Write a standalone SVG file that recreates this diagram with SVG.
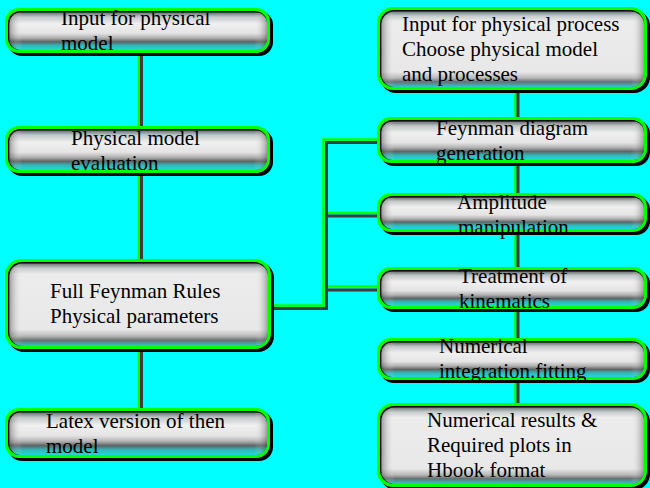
<svg xmlns="http://www.w3.org/2000/svg" width="650" height="488" viewBox="0 0 650 488">
<defs>
<linearGradient id="gs" x1="0" y1="0" x2="0" y2="1">
<stop offset="0" stop-color="#6a7070"/>
<stop offset="0.12" stop-color="#c4c8c8"/>
<stop offset="0.3" stop-color="#f0f0f0"/>
<stop offset="0.55" stop-color="#e4e4e4"/>
<stop offset="0.68" stop-color="#b0b0b0"/>
<stop offset="0.78" stop-color="#5e6464"/>
<stop offset="0.88" stop-color="#30b8b8"/>
<stop offset="1" stop-color="#20d8d8"/>
</linearGradient>
<linearGradient id="gt" x1="0" y1="0" x2="0" y2="1">
<stop offset="0" stop-color="#707878"/>
<stop offset="0.06" stop-color="#c8cccc"/>
<stop offset="0.13" stop-color="#ececec"/>
<stop offset="0.8" stop-color="#e8e8e8"/>
<stop offset="0.88" stop-color="#b8b8b8"/>
<stop offset="0.93" stop-color="#687070"/>
<stop offset="1" stop-color="#30c8c8"/>
</linearGradient>
<linearGradient id="gh" x1="0" y1="0" x2="1" y2="0">
<stop offset="0" stop-color="#404040" stop-opacity="0.45"/>
<stop offset="0.05" stop-color="#ffffff" stop-opacity="0"/>
<stop offset="0.95" stop-color="#ffffff" stop-opacity="0"/>
<stop offset="1" stop-color="#404040" stop-opacity="0.45"/>
</linearGradient>
</defs>
<style>
.sh{fill:#000}
.gr{fill:#00ff00}
.bk{fill:#000}
.fs{fill:url(#gs)}
.ft{fill:url(#gt)}
.hz{fill:url(#gh)}
.cg{fill:none;stroke:#00ff00;stroke-width:2.5}
.cd{fill:none;stroke:#3c3c3c;stroke-width:3}
.t{font-family:'Liberation Serif',Tinos,'DejaVu Serif','Noto Serif',serif;font-size:21px;fill:#000}
</style>
<rect width="650" height="488" fill="#00ffff"/>
<g id="connectors">
<path class="cg" d="M139 53V126M139 173V259M139 349V408"/>
<path class="cd" d="M141.5 53V126M141.5 173V259M141.5 349V408"/>
<path class="cg" d="M515.5 90V117M515.5 163V193M515.5 232V267M515.5 309V338M515.5 380V403"/>
<path class="cd" d="M518 90V117M518 163V193M518 232V267M518 309V338M518 380V403"/>
<path class="cg" d="M272 305.5H323.5V139.5H377M323.5 213H377M323.5 286.5H377"/>
<path class="cd" d="M272 308.5H326.5V142.5H377M326.5 216H377M326.5 290H377"/>
</g>
<g class="t">
<g id="n-input-model">
<rect class="sh" x="8" y="11" width="265" height="45" rx="14"/>
<rect class="gr" x="5" y="8" width="265" height="45" rx="14"/>
<rect class="bk" x="8" y="11" width="259" height="39" rx="12"/>
<rect class="fs" x="9.5" y="12.5" width="257.5" height="37.5" rx="11"/>
<rect class="hz" x="9.5" y="12.5" width="257.5" height="37.5" rx="11"/>
<text x="61" y="25">Input for physical</text>
<text x="61" y="50">model</text>
</g>
<g id="n-eval">
<rect class="sh" x="8" y="129" width="265" height="47" rx="14"/>
<rect class="gr" x="5" y="126" width="265" height="47" rx="14"/>
<rect class="bk" x="8" y="129" width="259" height="41" rx="12"/>
<rect class="fs" x="9.5" y="130.5" width="257.5" height="39.5" rx="11"/>
<rect class="hz" x="9.5" y="130.5" width="257.5" height="39.5" rx="11"/>
<text x="71" y="145">Physical model</text>
<text x="71" y="170">evaluation</text>
</g>
<g id="n-rules">
<rect class="sh" x="8" y="262" width="266" height="90" rx="16"/>
<rect class="gr" x="5" y="259" width="266" height="90" rx="16"/>
<rect class="bk" x="8" y="262" width="260" height="84" rx="14"/>
<rect class="ft" x="9.5" y="263.5" width="258.5" height="82.5" rx="13"/>
<rect class="hz" x="9.5" y="263.5" width="258.5" height="82.5" rx="13"/>
<text x="50" y="298">Full Feynman Rules</text>
<text x="50" y="323">Physical parameters</text>
</g>
<g id="n-latex">
<rect class="sh" x="8" y="411" width="265" height="50" rx="14"/>
<rect class="gr" x="5" y="408" width="265" height="50" rx="14"/>
<rect class="bk" x="8" y="411" width="259" height="44" rx="12"/>
<rect class="fs" x="9.5" y="412.5" width="257.5" height="42.5" rx="11"/>
<rect class="hz" x="9.5" y="412.5" width="257.5" height="42.5" rx="11"/>
<text x="46" y="428">Latex version of then</text>
<text x="46" y="453">model</text>
</g>
<g id="n-input-process">
<rect class="sh" x="380" y="10" width="270" height="83" rx="16"/>
<rect class="gr" x="377" y="7" width="270" height="83" rx="16"/>
<rect class="bk" x="380" y="10" width="264" height="77" rx="14"/>
<rect class="ft" x="381.5" y="11.5" width="262.5" height="75.5" rx="13"/>
<rect class="hz" x="381.5" y="11.5" width="262.5" height="75.5" rx="13"/>
<text x="402" y="31">Input for physical process</text>
<text x="402" y="56">Choose physical model</text>
<text x="402" y="81">and processes</text>
</g>
<g id="n-feyn-gen">
<rect class="sh" x="380" y="120" width="270" height="46" rx="14"/>
<rect class="gr" x="377" y="117" width="270" height="46" rx="14"/>
<rect class="bk" x="380" y="120" width="264" height="40" rx="12"/>
<rect class="fs" x="381.5" y="121.5" width="262.5" height="38.5" rx="11"/>
<rect class="hz" x="381.5" y="121.5" width="262.5" height="38.5" rx="11"/>
<text x="436" y="135">Feynman diagram</text>
<text x="436" y="160">generation</text>
</g>
<g id="n-amplitude">
<rect class="sh" x="380" y="196" width="270" height="39" rx="14"/>
<rect class="gr" x="377" y="193" width="270" height="39" rx="14"/>
<rect class="bk" x="380" y="196" width="264" height="33" rx="12"/>
<rect class="fs" x="381.5" y="197.5" width="262.5" height="31.5" rx="11"/>
<rect class="hz" x="381.5" y="197.5" width="262.5" height="31.5" rx="11"/>
<text x="457" y="209">Amplitude</text>
<text x="458" y="234">manipulation</text>
</g>
<g id="n-kinematics">
<rect class="sh" x="380" y="270" width="270" height="42" rx="14"/>
<rect class="gr" x="377" y="267" width="270" height="42" rx="14"/>
<rect class="bk" x="380" y="270" width="264" height="36" rx="12"/>
<rect class="fs" x="381.5" y="271.5" width="262.5" height="34.5" rx="11"/>
<rect class="hz" x="381.5" y="271.5" width="262.5" height="34.5" rx="11"/>
<text x="459" y="283">Treatment of</text>
<text x="459" y="308">kinematics</text>
</g>
<g id="n-numerical">
<rect class="sh" x="380" y="341" width="270" height="42" rx="14"/>
<rect class="gr" x="377" y="338" width="270" height="42" rx="14"/>
<rect class="bk" x="380" y="341" width="264" height="36" rx="12"/>
<rect class="fs" x="381.5" y="342.5" width="262.5" height="34.5" rx="11"/>
<rect class="hz" x="381.5" y="342.5" width="262.5" height="34.5" rx="11"/>
<text x="439" y="353">Numerical</text>
<text x="439" y="378">integration.fitting</text>
</g>
<g id="n-results">
<rect class="sh" x="380" y="406" width="270" height="84" rx="16"/>
<rect class="gr" x="377" y="403" width="270" height="84" rx="16"/>
<rect class="bk" x="380" y="406" width="264" height="78" rx="14"/>
<rect class="ft" x="381.5" y="407.5" width="262.5" height="76.5" rx="13"/>
<rect class="hz" x="381.5" y="407.5" width="262.5" height="76.5" rx="13"/>
<text x="427" y="427">Numerical results &amp;</text>
<text x="427" y="452">Required plots in</text>
<text x="427" y="477">Hbook format</text>
</g>
</g>
</svg>
